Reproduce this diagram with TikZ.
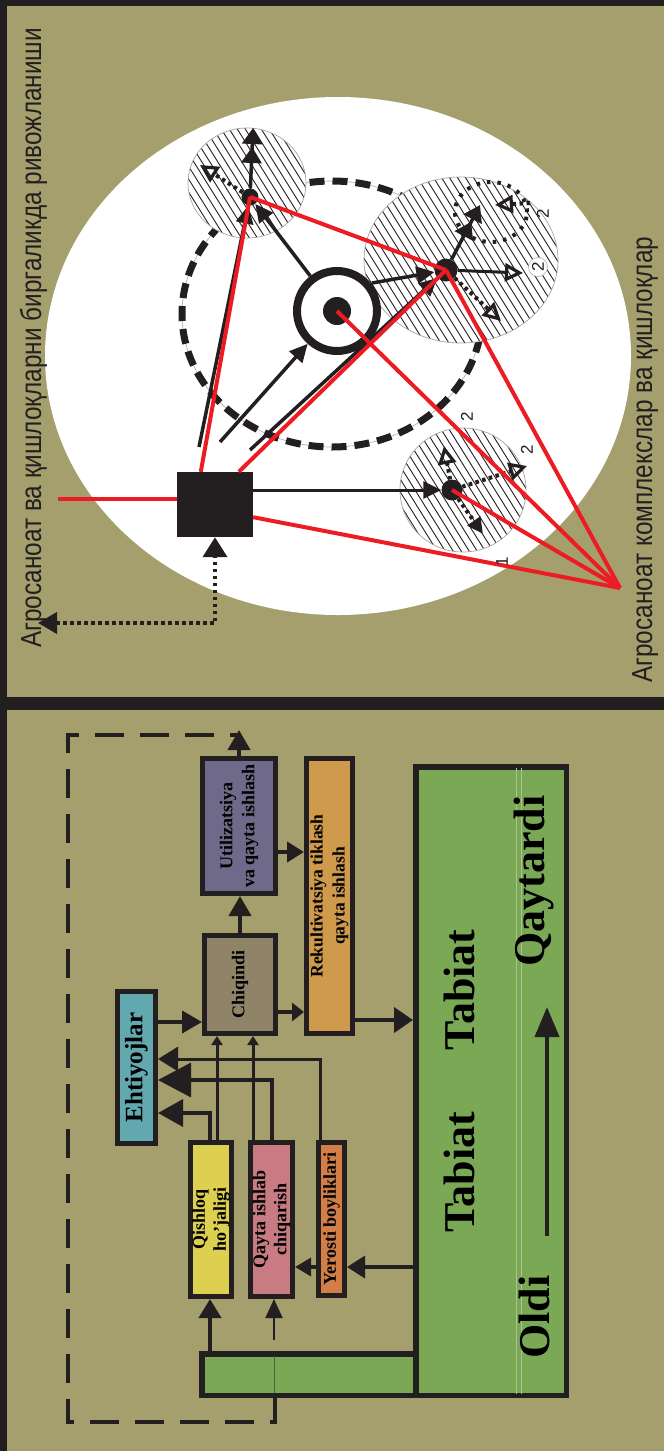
\documentclass[tikz,border=0pt]{standalone}
\usepackage{graphicx}
\usepackage{fontspec}
\setmainfont{Liberation Serif}
\setsansfont{Liberation Sans}
\usetikzlibrary{arrows.meta,calc}
\definecolor{olivebg}{RGB}{165,159,110}
\definecolor{dark}{RGB}{35,31,32}
\definecolor{redc}{RGB}{237,28,36}
\definecolor{grnc}{RGB}{123,168,85}
\definecolor{purpc}{RGB}{111,106,137}
\definecolor{rekc}{RGB}{208,154,76}
\definecolor{chqc}{RGB}{143,132,104}
\definecolor{tealc}{RGB}{98,169,175}
\definecolor{yelc}{RGB}{221,208,80}
\definecolor{pnkc}{RGB}{201,123,132}
\definecolor{yerc}{RGB}{210,126,70}
\newcommand{\myhatch}[4]{%
  \begin{scope}[shift={(#1,#2)}]
    \fill[white] (0,0) ellipse [x radius=#3pt, y radius=#4pt];
    \begin{scope}
      \clip (0,0) ellipse [x radius=#3pt, y radius=#4pt];
      \foreach \hk in {-200,-192,...,200}
        \draw[dark, line width=0.9pt] (\hk-70,-112) -- (\hk+70,112);
    \end{scope}
    \draw[black!35, line width=0.7pt] (0,0) ellipse [x radius=#3pt, y radius=#4pt];
  \end{scope}}
\tikzset{
  redln/.style={draw=redc, line width=4pt},
  tarr/.style={draw=dark, line width=3.5pt, -{Triangle[length=18pt,width=17pt]}},
  dblarr/.style={draw=dark, line width=3.5pt, -{Triangle[length=16pt,width=20pt,sep=3pt]Triangle[length=16pt,width=20pt]}},
  dotln/.style={draw=dark, line width=4pt, dash pattern=on 3.5pt off 3.5pt},
  openhd/.style={-{Triangle[open,length=18pt,width=18pt,line width=3.2pt]}},
  fillhd/.style={-{Triangle[length=16pt,width=15pt]}},
  blob/.style={circle, fill=dark, inner sep=0pt, minimum size=#1},
  lbl/.style={font=\sffamily\fontsize{17}{17}\selectfont, rotate=90, inner sep=0pt, text=dark},
  sidetxt/.style={font=\sffamily\fontsize{29}{29}\selectfont, rotate=90, inner sep=0pt, anchor=base west, text=dark},
  flowbox/.style={draw=dark, line width=5pt, rotate=90, inner sep=0pt, align=center, text=black, font=\bfseries\fontsize{18}{22}\selectfont},
  farr/.style={draw=dark, line width=4pt, -{Triangle[length=20pt,width=22pt]}},
  sarr/.style={draw=dark, line width=3pt, -{Triangle[length=9pt,width=11pt]}},
  bigtxt/.style={font=\bfseries\fontsize{44}{44}\selectfont, rotate=90, inner sep=0pt, anchor=base, text=black},
  dashln/.style={draw=dark, line width=3.5pt, dash pattern=on 29pt off 16pt},
  greenbox/.style={draw=dark, line width=5.5pt, fill=grnc, inner sep=0pt},
}
\begin{document}
\begin{tikzpicture}[x=1pt, y=-1pt]
\useasboundingbox (0,0) rectangle (664,1451);
% frame
\fill[olivebg] (0,0) rectangle (664,1451);
\fill[dark] (0,0) rectangle (664,6);
\fill[dark] (0,0) rectangle (7,1451);
\fill[dark] (0,697) rectangle (664,710);

% ================= top panel =================
\fill[white] (338,356) ellipse [x radius=293pt, y radius=259pt];
\draw[black!30, line width=0.7pt] (332,314) ellipse [x radius=150pt, y radius=133pt];
\draw[dark, line width=7pt, dash pattern=on 15pt off 8pt] (332,314) ellipse [x radius=150pt, y radius=133pt];

\myhatch{247}{183}{59}{55}
\myhatch{461}{260}{97}{83}
\myhatch{463}{490}{63}{62}

\draw[dark, line width=4pt, dash pattern=on 3.5pt off 7pt] (491,212) ellipse [x radius=36pt, y radius=30pt];

% dots
\node[blob=17pt] (dA) at (250,197) {};
\node[blob=23pt] (dB) at (446,270) {};
\node[blob=21pt] (d1) at (452,490) {};

% bullseye and square
\node[circle, draw=dark, line width=8pt, fill=white, minimum size=80pt, inner sep=0pt] (bull) at (337,311) {};
\node[blob=28pt] (bullc) at (337,311) {};
\node[fill=dark, minimum width=76pt, minimum height=65pt, inner sep=0pt] (sq) at (215,504.5) {};

% black arrows
\coordinate (s1) at (199,447);
\coordinate (s2) at (220,442);
\coordinate (s3) at (250,450);
\coordinate (s4) at (372,283);
\draw[tarr] (s1) -- (dA);
\draw[tarr] (s2) -- (bull);
\draw[tarr] (s3) -- (dB);
\draw[tarr] (s4) -- (dB);
\draw[tarr] (bull) -- (dA);
\draw[tarr, line width=3pt] (sq.east |- d1) -- (d1);

% circle A internals
\coordinate (aT) at (253,128);
\coordinate (aL) at (200,165);
\draw[dblarr] (dA) -- (aT);
\draw[dotln, openhd] (dA) -- (aL);

% circle B internals
\coordinate (bUR) at (480,205);
\coordinate (bR) at (523,273);
\coordinate (bDR) at (501,321);
\coordinate (bI1) at (530,203);
\coordinate (bI2) at (495,205);
\draw[dblarr] (dB) -- (bUR);
\draw[draw=dark, line width=3pt, openhd] (dB) -- (bR);
\draw[dotln, openhd] (dB) -- (bDR);
\draw[dotln, openhd] (bI1) -- (bI2);

% circle 1 internals
\coordinate (cU) at (444,446);
\coordinate (cR) at (527,466);
\coordinate (cD) at (483,534);
\draw[dotln, openhd] (d1) -- (cU);
\draw[dotln, openhd] (d1) -- (cR);
\draw[dotln, fillhd] (d1) -- (cD);

% dotted arrow from square
\coordinate (xl) at (38,623);
\draw[dotln, line width=4pt, {Triangle[length=19pt,width=21pt]}-{Triangle[length=20pt,width=24pt]}] (xl) -| (sq.south);

% red lines
\coordinate (P) at (620,588);
\coordinate (rl) at (58,499);
\draw[redln] (rl) -- (rl -| sq.west);
\draw[redln] ($(sq.north west)+(24,0)$) -- (dA.center);
\draw[redln] ($(sq.north west)+(62,0)$) -- (dB.center);
\draw[redln] (dA.center) -- (dB.center);
\draw[redln] ($(sq.south east)+(0,-20)$) -- (P);
\draw[redln] (P) -- (d1.center);
\draw[redln] (P) -- (dB.center);
\draw[redln] (P) -- (bullc.center);

% labels
\node[lbl] (l2a) at (467,417) {2};
\node[lbl] (l2b) at (527,450) {2};
\node[lbl] (l1) at (502,562) {1};
\node[lbl] (l2c) at (543,214) {2};
\node[lbl, circle, fill=white, draw=black!30, line width=0.6pt, minimum size=19pt] (l2d) at (538,267) {2};

\node[sidetxt] (lt) at (41,648) {\scalebox{0.84}[1]{Агросаноат ва қишлоқларни биргаликда ривожланиши}};
\node[sidetxt] (rt) at (652,683) {\scalebox{0.84}[1]{Агросаноат комплекслар ва қишлоқлар}};

% ================= bottom panel =================
\node[greenbox, minimum width=214pt, minimum height=41.5pt] (bar) at (308.75,1374.5) {};
\node[greenbox, minimum width=150.5pt, minimum height=628.5pt] (tab) at (491,1081) {};
\draw[grnc!65!white, line width=0.7pt] (516,768) -- (516,1394) (521,768) -- (521,1394);
\draw[grnc!60!black, line width=1pt] (274,1356) -- (274,1393);

\node[flowbox, fill=purpc, minimum width=135pt, minimum height=73pt] (util) at (239,826) {Utilizatsiya\\va qayta ishlash};
\node[flowbox, fill=rekc, minimum width=275pt, minimum height=46pt, font=\bfseries\fontsize{17.5}{22}\selectfont] (rek) at (329.5,896) {Rekultivatsiya tiklash\\qayta ishlash};
\node[flowbox, fill=chqc, minimum width=98pt, minimum height=71pt] (chiq) at (240,984.5) {Chiqindi};
\node[flowbox, fill=tealc, minimum width=152pt, minimum height=38pt, font=\bfseries\fontsize{25}{25}\selectfont] (ehti) at (136.5,1067.5) {Ehtiyojlar};
\node[flowbox, fill=yelc, minimum width=154pt, minimum height=41pt, font=\bfseries\fontsize{18}{21}\selectfont] (qish) at (211,1219.5) {Qishloq\\ho’jaligi};
\node[flowbox, fill=pnkc, minimum width=154pt, minimum height=42pt, font=\bfseries\fontsize{18}{21}\selectfont] (qayta) at (271.5,1219.5) {Qayta ishlab\\chiqarish};
\node[flowbox, fill=yerc, minimum width=153pt, minimum height=26pt] (yer) at (331.5,1219) {Yerosti boyliklari};

% texts in the green box
\node[bigtxt] (tb1) at (474,990) {Tabiat};
\node[bigtxt] (tb2) at (474,1172) {Tabiat};
\node[bigtxt] (qy) at (544,881) {Qaytardi};
\node[bigtxt] (ol) at (549,1317) {Oldi};
\coordinate (ga1) at (547,1236);
\coordinate (ga2) at (547,1007);
\draw[draw=dark, line width=4pt, -{Triangle[length=30pt,width=24pt]}] (ga1) -- (ga2);

% helper coordinates
\coordinate (ytop) at (0,730);
\coordinate (y735) at (0,735);
\coordinate (y852) at (0,852);
\coordinate (y1012) at (0,1012);
\coordinate (y1020) at (0,1020);
\coordinate (y1022) at (0,1022);
\coordinate (y1059) at (0,1059);
\coordinate (y1080) at (0,1080);
\coordinate (y1113) at (0,1113);
\coordinate (y1267) at (0,1267);
\coordinate (x210) at (210,0);
\coordinate (x217) at (217,0);
\coordinate (x253) at (253,0);
\coordinate (x272) at (272,0);
\coordinate (x275) at (275,0);
\coordinate (x320) at (320,0);
\coordinate (thn) at (274,1340);

% flow arrows
\draw[farr] (util.east) -- (util.east |- ytop);
\draw[farr] (chiq.east) -- (chiq.east |- util.west);
\draw[farr, -{Triangle[length=17pt,width=20pt]}] (util.south |- y852) -- (rek.north |- y852);
\draw[farr, -{Triangle[length=12pt,width=18pt]}] (chiq.south |- y1012) -- (rek.north |- y1012);
\draw[farr] (ehti.south |- y1022) -- (chiq.north |- y1022);
\draw[farr, -{Triangle[length=19pt,width=25pt]}] (rek.south |- y1020) -- (tab.west |- y1020);
\draw[sarr] (qish.east -| x217) -- (chiq.west -| x217);
\draw[sarr] (qayta.east -| x253) -- (chiq.west -| x253);
\draw[farr, line width=3.5pt, -{Triangle[length=25pt,width=27pt]}] (qish.east -| x210) |- (ehti.south |- y1113);
\draw[farr, line width=3.5pt, -{Triangle[length=33pt,width=34pt]}] (qayta.east -| x272) |- (ehti.south |- y1080);
\draw[farr, line width=3pt, -{Triangle[length=20pt,width=24pt]}] (yer.east -| x320) |- (ehti.south |- y1059);
\draw[farr, line width=3.5pt, -{Triangle[length=18pt,width=22pt]}] (tab.west |- y1267) -- (yer.south |- y1267);
\draw[farr, line width=3.5pt, -{Triangle[length=16pt,width=18pt]}] (yer.north |- y1267) -- (qayta.south |- y1267);
\draw[farr, -{Triangle[length=19pt,width=22pt]}] (bar.north -| x210) -- (qish.west -| x210);
\draw[draw=dark, line width=2pt, -{Triangle[length=19pt,width=17pt]}] (thn) -- (qayta.west -| thn);

% dashed loop
\draw[dashln] (bar.south -| x275) -- (275,1422) -- (68,1422) -- (68,735) -- (util.east |- y735);
\end{tikzpicture}
\end{document}
